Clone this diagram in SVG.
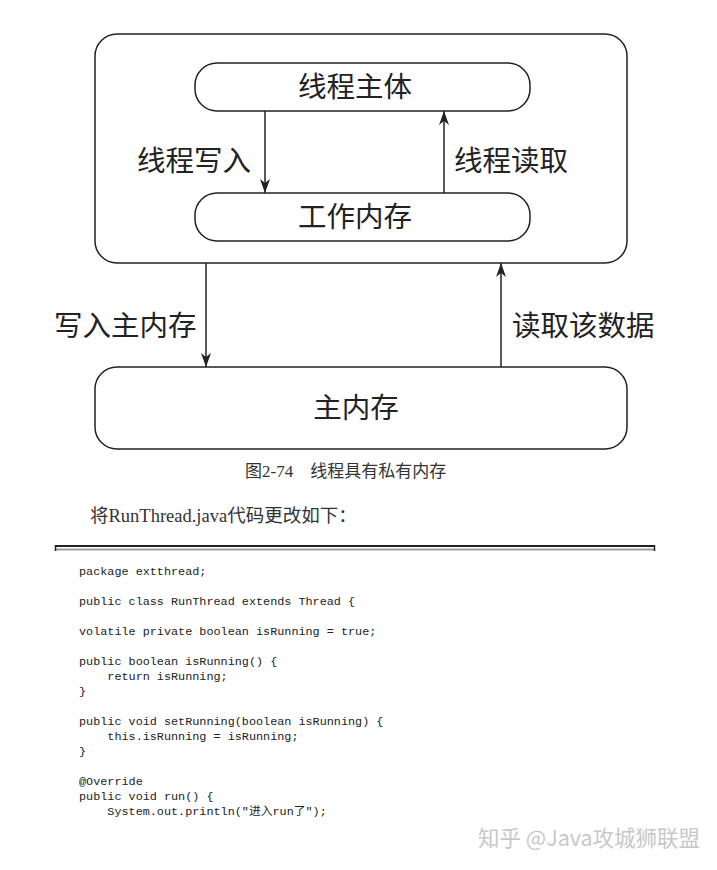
<svg xmlns="http://www.w3.org/2000/svg" width="717" height="870" viewBox="0 0 717 870">
<style>
.box{fill:#fff;stroke:#222;stroke-width:1.5}
.lbl{font-family:"Noto Sans CJK SC",sans-serif;font-size:28.5px;fill:#222}
.cap{font-family:"Liberation Serif","Noto Sans CJK SC",serif;font-size:17px;fill:#333}
.code{font-family:"Liberation Mono","Noto Sans CJK SC",monospace;font-size:11.8px;fill:#222;white-space:pre}
.ln{stroke:#222;stroke-width:1.5;fill:none}
</style>
<defs>
<marker id="ah" viewBox="0 0 14 10" refX="14" refY="5" markerWidth="14" markerHeight="10" markerUnits="userSpaceOnUse" orient="auto">
<path d="M0,0 L14,5 L0,10 L4,5 Z" fill="#222"/>
</marker>
</defs>
<rect width="717" height="870" fill="#fff"/>
<g id="outer"><rect class="box" x="95" y="34" width="532" height="229" rx="22"/></g>
<g id="thread-body"><rect class="box" x="195" y="63" width="335" height="48" rx="22"/><text class="lbl" x="355" y="97" text-anchor="middle">线程主体</text></g>
<g id="work-mem"><rect class="box" x="195" y="193" width="335" height="48" rx="22"/><text class="lbl" x="355" y="227" text-anchor="middle">工作内存</text></g>
<g id="main-mem"><rect class="box" x="95" y="367" width="532" height="82" rx="22"/><text class="lbl" x="356" y="418" text-anchor="middle">主内存</text></g>
<g id="connectors">
<line class="ln" x1="265" y1="111" x2="265" y2="193" marker-end="url(#ah)"/>
<line class="ln" x1="444" y1="193" x2="444" y2="111" marker-end="url(#ah)"/>
<line class="ln" x1="206" y1="263" x2="206" y2="367" marker-end="url(#ah)"/>
<line class="ln" x1="501" y1="367" x2="501" y2="263" marker-end="url(#ah)"/>
</g>
<g id="labels">
<text class="lbl" x="137" y="171">线程写入</text>
<text class="lbl" x="454" y="171">线程读取</text>
<text class="lbl" x="54" y="336">写入主内存</text>
<text class="lbl" x="512" y="336">读取该数据</text>
</g>
<text class="cap" x="245" y="477">图2-74　线程具有私有内存</text>
<text class="cap" x="90" y="522" style="font-size:18.5px">将RunThread.java代码更改如下：</text>
<g id="rule">
<line x1="55" y1="546" x2="655" y2="546" stroke="#222" stroke-width="2"/>
<line x1="55" y1="549.5" x2="655" y2="549.5" stroke="#999" stroke-width="2"/>
<line x1="55.5" y1="545" x2="55.5" y2="551" stroke="#222" stroke-width="1.5"/>
<line x1="654.5" y1="545" x2="654.5" y2="551" stroke="#222" stroke-width="1.5"/>
</g>
<g id="code">
<text class="code" x="79" y="575">package extthread;</text>
<text class="code" x="79" y="605">public class RunThread extends Thread {</text>
<text class="code" x="79" y="635">volatile private boolean isRunning = true;</text>
<text class="code" x="79" y="665">public boolean isRunning() {</text>
<text class="code" x="79" y="680">    return isRunning;</text>
<text class="code" x="79" y="695">}</text>
<text class="code" x="79" y="725">public void setRunning(boolean isRunning) {</text>
<text class="code" x="79" y="740">    this.isRunning = isRunning;</text>
<text class="code" x="79" y="755">}</text>
<text class="code" x="79" y="785">@Override</text>
<text class="code" x="79" y="800">public void run() {</text>
<text class="code" x="79" y="815">    System.out.println("进入run了");</text>
</g>
<text x="478" y="846" style="font-family:'Noto Sans CJK SC',sans-serif;font-size:21.5px;fill:#c8c8c8">知乎 @Java攻城狮联盟</text>
</svg>
